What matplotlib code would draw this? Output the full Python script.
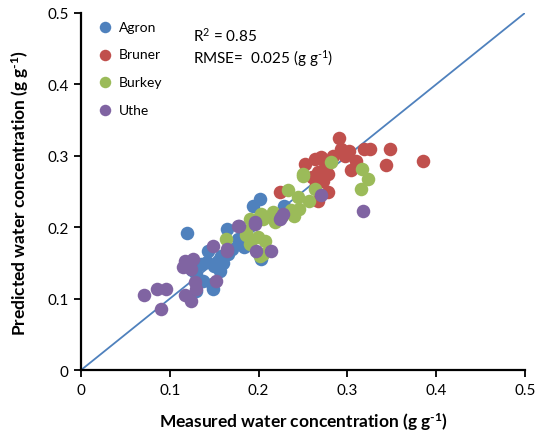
import matplotlib
matplotlib.use("Agg")
import matplotlib.pyplot as plt

plt.rcParams['font.family'] = ['Lato', 'DejaVu Sans']
plt.rcParams['mathtext.default'] = 'regular'

# measured, predicted (g g-1)
agron_x = [0.119, 0.164, 0.201, 0.194, 0.229, 0.143, 0.142, 0.154, 0.156, 0.165, 0.130, 0.130, 0.149,
           0.179, 0.184, 0.203, 0.177, 0.150, 0.148, 0.135, 0.160, 0.125, 0.200, 0.170, 0.137, 0.158]
agron_y = [0.192, 0.198, 0.239, 0.230, 0.229, 0.167, 0.151, 0.153, 0.139, 0.162, 0.134, 0.111, 0.113,
           0.183, 0.172, 0.155, 0.183, 0.145, 0.120, 0.148, 0.150, 0.140, 0.163, 0.170, 0.125, 0.160]

bruner_x = [0.290, 0.293, 0.302, 0.297, 0.319, 0.325, 0.348, 0.385, 0.343, 0.310, 0.304, 0.252, 0.263,
            0.270, 0.267, 0.274, 0.269, 0.278, 0.265, 0.224, 0.278, 0.267, 0.260, 0.272, 0.284, 0.275]
bruner_y = [0.325, 0.310, 0.307, 0.300, 0.310, 0.310, 0.310, 0.292, 0.287, 0.292, 0.280, 0.289, 0.296,
            0.298, 0.277, 0.280, 0.270, 0.275, 0.261, 0.249, 0.249, 0.237, 0.270, 0.265, 0.300, 0.290]

burkey_x = [0.233, 0.282, 0.317, 0.323, 0.315, 0.250, 0.263, 0.257, 0.244, 0.246, 0.216, 0.240, 0.218,
            0.201, 0.190, 0.203, 0.237, 0.205, 0.163, 0.186, 0.186, 0.199, 0.207, 0.190, 0.201, 0.205,
            0.226, 0.250]
burkey_y = [0.252, 0.291, 0.282, 0.267, 0.253, 0.272, 0.253, 0.237, 0.242, 0.226, 0.221, 0.216, 0.207,
            0.216, 0.211, 0.218, 0.224, 0.211, 0.183, 0.195, 0.189, 0.186, 0.181, 0.176, 0.160, 0.162,
            0.215, 0.275]

uthe_x = [0.149, 0.164, 0.177, 0.117, 0.126, 0.115, 0.124, 0.128, 0.130, 0.152, 0.117, 0.124, 0.071,
          0.085, 0.096, 0.090, 0.318, 0.270, 0.196, 0.178, 0.227, 0.225, 0.196, 0.224, 0.197, 0.214,
          0.164, 0.120, 0.122]
uthe_y = [0.174, 0.169, 0.202, 0.153, 0.155, 0.144, 0.141, 0.123, 0.113, 0.125, 0.105, 0.097, 0.105,
          0.113, 0.113, 0.086, 0.222, 0.245, 0.204, 0.201, 0.218, 0.214, 0.207, 0.211, 0.167, 0.166,
          0.167, 0.148, 0.150]

fig = plt.figure(figsize=(5.44, 4.35), dpi=100)
ax = fig.add_axes([0.149, 0.147, 0.816, 0.821])

ax.plot([0, 0.5], [0, 0.5], color='#4F81BD', lw=1.3, zorder=1)
ax.scatter(agron_x, agron_y, s=95, color='#4F81BD', label='Agron', zorder=2, linewidths=0)
ax.scatter(bruner_x, bruner_y, s=95, color='#C0504D', label='Bruner', zorder=2, linewidths=0)
ax.scatter(burkey_x, burkey_y, s=95, color='#9BBB59', label='Burkey', zorder=2, linewidths=0)
ax.scatter(uthe_x, uthe_y, s=95, color='#8064A2', label='Uthe', zorder=2, linewidths=0)

ax.set_xlim(0, 0.5)
ax.set_ylim(0, 0.5)
ax.set_xticks([0, 0.1, 0.2, 0.3, 0.4, 0.5])
ax.set_yticks([0, 0.1, 0.2, 0.3, 0.4, 0.5])
ax.set_xticklabels(['0', '0.1', '0.2', '0.3', '0.4', '0.5'])
ax.set_yticklabels(['0', '0.1', '0.2', '0.3', '0.4', '0.5'])
ax.spines['top'].set_visible(False)
ax.spines['right'].set_visible(False)
ax.spines['left'].set_linewidth(1.6)
ax.spines['bottom'].set_linewidth(1.6)
ax.tick_params(direction='out', length=5, width=1.3, labelsize=11, pad=4)

unit = '(g g$^{\u2010 1}$)'
ax.set_xlabel('Measured water concentration ' + unit, fontsize=12.5, fontweight='bold', labelpad=10)
ax.set_ylabel('Predicted water concentration ' + unit, fontsize=12.5, fontweight='bold', labelpad=12)

ax.legend(loc='upper left', bbox_to_anchor=(0.0, 1.005), frameon=False, fontsize=10,
          handletextpad=0.0, labelspacing=1.12, markerscale=0.85, borderaxespad=0.3)

ax.text(0.252, 0.938, 'R$^2$ = 0.85', transform=ax.transAxes, fontsize=11, va='center')
ax.text(0.252, 0.876, 'RMSE=  0.025 ' + unit, transform=ax.transAxes, fontsize=11, va='center')

fig.savefig('out.png', dpi=100)
